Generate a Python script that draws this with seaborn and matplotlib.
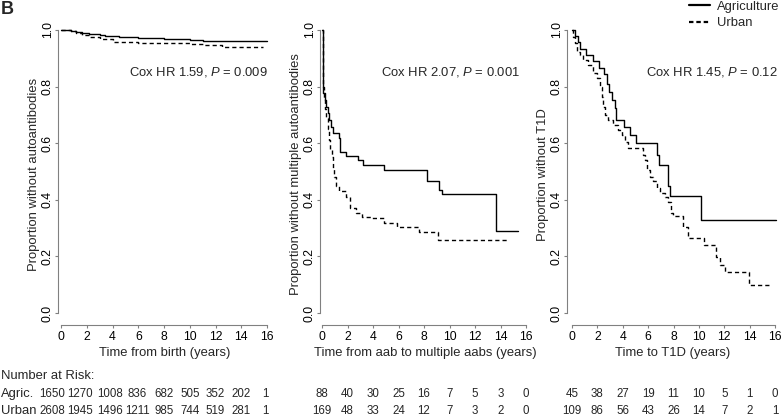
import matplotlib
matplotlib.use("Agg")
import matplotlib.pyplot as plt
import pandas as pd
import seaborn as sns
from matplotlib import transforms
from matplotlib.lines import Line2D

# Kaplan-Meier steps: time (years) and proportion after each drop
birth_t_agric = [0, 0.8, 1.2, 1.6, 2.2, 3.0, 3.4, 4.5, 6.0, 8.0, 10.0, 11.0, 16.0]
birth_s_agric = [1.0, 0.997, 0.992, 0.988, 0.986, 0.983, 0.979, 0.975, 0.972, 0.969, 0.966, 0.960, 0.960]
birth_t_urban = [0, 0.8, 1.2, 1.6, 2.2, 3.0, 4.0, 6.0, 8.0, 10.0, 11.0, 12.5, 15.7]
birth_s_urban = [1.0, 0.995, 0.988, 0.981, 0.975, 0.968, 0.958, 0.955, 0.953, 0.951, 0.946, 0.939, 0.939]

multi_t_agric = [0, 0.05, 0.1, 0.2, 0.32, 0.45, 0.58, 0.7, 0.84, 1.3, 1.45, 1.88, 2.85, 3.2,
                 4.9, 8.26, 9.18, 9.44, 13.65, 15.4]
multi_s_agric = [1.0, 0.8, 0.776, 0.753, 0.729, 0.706, 0.682, 0.658, 0.635, 0.617, 0.57, 0.555,
                 0.541, 0.523, 0.505, 0.468, 0.435, 0.42, 0.29, 0.29]
multi_t_urban = [0, 0.05, 0.15, 0.25, 0.35, 0.45, 0.55, 0.65, 0.75, 0.85, 0.95, 1.1, 1.3, 1.9,
                 2.2, 2.7, 3.1, 3.9, 4.9, 5.9, 7.6, 9.1, 14.5]
multi_s_urban = [1.0, 0.8, 0.76, 0.72, 0.69, 0.65, 0.61, 0.58, 0.55, 0.51, 0.48, 0.45, 0.43, 0.41,
                 0.37, 0.355, 0.34, 0.334, 0.319, 0.305, 0.287, 0.258, 0.258]

t1d_t_agric = [0, 0.24, 0.45, 0.63, 1.1, 1.68, 2.15, 2.52, 2.73, 2.94, 3.13, 3.39, 3.47, 4.1,
               4.57, 5.04, 6.67, 6.88, 7.59, 7.72, 10.17, 16.05]
t1d_s_agric = [1.0, 0.978, 0.956, 0.933, 0.911, 0.889, 0.867, 0.845, 0.81, 0.782, 0.753, 0.723,
               0.682, 0.656, 0.629, 0.60, 0.559, 0.523, 0.447, 0.413, 0.33, 0.33]
t1d_t_urban = [0, 0.1, 0.24, 0.37, 0.63, 0.89, 1.29, 1.68, 1.94, 2.21, 2.34, 2.47, 2.6, 2.86,
               3.26, 3.65, 3.91, 4.18, 4.44, 5.57, 5.75, 5.94, 6.15, 6.41, 6.67, 6.93, 7.33,
               7.59, 7.77, 7.93, 8.72, 9.11, 10.4, 11.35, 11.7, 12.06, 13.95, 15.78]
t1d_s_urban = [1.0, 0.976, 0.953, 0.923, 0.912, 0.894, 0.876, 0.847, 0.829, 0.80, 0.764, 0.729,
               0.70, 0.682, 0.664, 0.647, 0.629, 0.606, 0.582, 0.56, 0.541, 0.505, 0.481, 0.465,
               0.44, 0.425, 0.411, 0.393, 0.353, 0.341, 0.305, 0.264, 0.24, 0.199, 0.17, 0.146,
               0.099, 0.099]

risk_times = [0, 2, 4, 6, 8, 10, 12, 14, 16]
birth_risk_agric = [1650, 1270, 1008, 836, 682, 505, 352, 202, 1]
birth_risk_urban = [2608, 1945, 1496, 1211, 985, 744, 519, 281, 1]
multi_risk_agric = [88, 40, 30, 25, 16, 7, 5, 3, 0]
multi_risk_urban = [169, 48, 33, 24, 12, 7, 3, 2, 0]
t1d_risk_agric = [45, 38, 27, 19, 11, 10, 5, 1, 0]
t1d_risk_urban = [109, 86, 56, 43, 26, 14, 7, 2, 1]

ylabels = ["Proportion without autoantibodies",
           "Proportion without multiple autoantibodies",
           "Proportion without T1D"]
xlabels = ["Time from birth (years)",
           "Time from aab to multiple aabs (years)",
           "Time to T1D (years)"]
cox_texts = ["Cox HR 1.59, $P$ = 0.009", "Cox HR 2.07, $P$ = 0.001", "Cox HR 1.45, $P$ = 0.12"]
cox_x = [10.7, 10.1, 11.0]

sns.set_theme(style="white")
plt.rcParams["font.family"] = ["Liberation Sans", "DejaVu Sans"]
plt.rcParams["mathtext.fontset"] = "custom"
plt.rcParams["mathtext.rm"] = "Liberation Sans"
plt.rcParams["mathtext.it"] = "Liberation Sans:italic"
FS = 9.4
TICK_FS = 8.8
RISK_FS = 8.3
GREY = "#808080"


def km_frame(t_a, s_a, t_u, s_u):
    a = pd.DataFrame({"time": t_a, "surv": s_a, "group": "Agriculture"})
    u = pd.DataFrame({"time": t_u, "surv": s_u, "group": "Urban"})
    return pd.concat([a, u], ignore_index=True)


frames = [
    km_frame(birth_t_agric, birth_s_agric, birth_t_urban, birth_s_urban),
    km_frame(multi_t_agric, multi_s_agric, multi_t_urban, multi_s_urban),
    km_frame(t1d_t_agric, t1d_s_agric, t1d_t_urban, t1d_s_urban),
]
risks = [(birth_risk_agric, birth_risk_urban),
         (multi_risk_agric, multi_risk_urban),
         (t1d_risk_agric, t1d_risk_urban)]
# the wide four-digit counts in the first panel sit a little left of their ticks
risk_nudge = [[-0.66, -0.5, -0.22, -0.05, 0, 0, 0, 0, -0.1], [0] * 9, [0] * 9]

W, H = 784, 420
fig = plt.figure(figsize=(W / 100, H / 100), dpi=100)

# pixel layout of each panel: axes left/right, where t=0 and t=16 land
lefts = [58, 320, 567]
rights = [271, 530, 779]
x0s = [61, 322, 572]
x16s = [267, 526, 775]
top, bottom = 24, 325
ylim = (-0.0424, 1.0212)

for i, df in enumerate(frames):
    ax = fig.add_axes([lefts[i] / W, 1 - bottom / H, (rights[i] - lefts[i]) / W, (bottom - top) / H])
    sns.lineplot(data=df, x="time", y="surv", style="group",
                 dashes={"Agriculture": "", "Urban": (3, 2.2)},
                 color="black", linewidth=1.0, drawstyle="steps-post",
                 estimator=None, sort=False, legend=False, ax=ax)
    ppu = (x16s[i] - x0s[i]) / 16
    ax.set_xlim(-(x0s[i] - lefts[i]) / ppu, 16 + (rights[i] - x16s[i]) / ppu)
    ax.set_ylim(*ylim)
    ax.set_xticks(risk_times)
    ax.set_yticks([0, 0.2, 0.4, 0.6, 0.8, 1.0])
    ax.set_yticklabels(["0.0", "0.2", "0.4", "0.6", "0.8", "1.0"])
    for side in ["top", "right"]:
        ax.spines[side].set_visible(False)
    ax.spines["left"].set_bounds(0, 1)
    ax.spines["bottom"].set_bounds(0, 16)
    for side in ["left", "bottom"]:
        ax.spines[side].set_color(GREY)
        ax.spines[side].set_linewidth(0.8)
    ax.tick_params(axis="both", direction="out", length=2.5, width=0.8, color=GREY,
                   labelsize=TICK_FS, labelcolor="black", pad=1.5)
    ax.tick_params(axis="y", left=True, pad=0.5)
    ax.tick_params(axis="x", bottom=True)
    for lab in ax.get_yticklabels():
        lab.set_rotation(90)
        lab.set_va("center")
    ax.set_ylabel(ylabels[i], fontsize=FS, labelpad=1.5)
    ax.set_xlabel(xlabels[i], fontsize=FS, labelpad=3.5)
    ax.text(cox_x[i], 0.852, cox_texts[i], fontsize=FS, ha="center", va="center")

    tr = transforms.blended_transform_factory(ax.transData, fig.transFigure)
    for t, dx, na, nu in zip(risk_times, risk_nudge[i], risks[i][0], risks[i][1]):
        ax.text(t + dx, 1 - 394 / H, str(na), transform=tr, fontsize=RISK_FS, ha="center",
                va="center", clip_on=False)
        ax.text(t + dx, 1 - 411 / H, str(nu), transform=tr, fontsize=RISK_FS, ha="center",
                va="center", clip_on=False)

fig.text(1 / W, 1 - 376 / H, "Number at Risk:", fontsize=FS, ha="left", va="center")
fig.text(1 / W, 1 - 394 / H, "Agric.", fontsize=FS, ha="left", va="center")
fig.text(1 / W, 1 - 411 / H, "Urban", fontsize=FS, ha="left", va="center")
fig.text(1 / W, 1 - 0.5 / H, "B", fontsize=13, fontweight="bold", ha="left", va="top")

handles = [Line2D([], [], color="black", lw=1.6),
           Line2D([], [], color="black", lw=1.6, dashes=(2, 1.3))]
fig.legend(handles, ["Agriculture", "Urban"], loc="upper right",
           bbox_to_anchor=(779 / W, 1 - 0.5 / H), frameon=False, fontsize=FS,
           handlelength=1.6, handletextpad=0.5, labelspacing=0.35, borderpad=0,
           borderaxespad=0)

fig.savefig("out.png", dpi=100)
